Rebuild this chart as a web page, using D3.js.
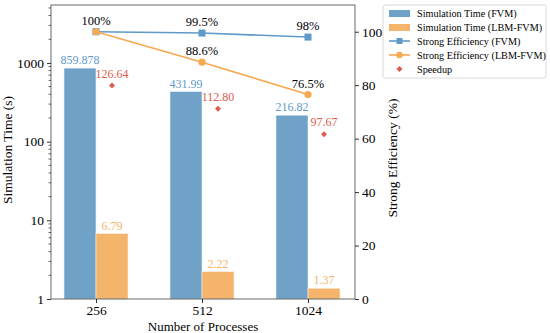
<!DOCTYPE html>
<html>
<head>
<meta charset="utf-8">
<script src="https://cdn.jsdelivr.net/npm/d3@7"></script>
<style>
  body { margin: 0; background: #fff; }
  svg text { font-family: "Liberation Serif", "Times New Roman", serif !important; }
</style>
</head>
<body>
<svg id="chart" width="550" height="333"></svg>
<script>
var procs = ["256", "512", "1024"];
var timeFVM = [859.878, 431.99, 216.82];
var timeLBM = [6.79, 2.22, 1.37];
var timeFVMLabels = ["859.878", "431.99", "216.82"];
var timeLBMLabels = ["6.79", "2.22", "1.37"];
var effFVM = [100, 99.5, 98];
var effLBM = [100, 88.6, 76.5];
var effFVMLabels = ["100%", "99.5%", "98%"];
var effLBMLabels = ["", "88.6%", "76.5%"];
var speedup = [126.64, 112.80, 97.67];
var speedupLabels = ["126.64", "112.80", "97.67"];
var leftTicks = [1, 10, 100, 1000];
var rightTicks = [0, 20, 40, 60, 80, 100];

var cBlue = "#6fa2c6", cOrange = "#f4b46c", cLineBlue = "#5f9ac8", cLineOrange = "#f7a94f", cRed = "#e05a4e";

var svg = d3.select("#chart"),
	margin = {top: 5, right: 195, bottom: 34, left: 51},
	width = 550 - margin.left - margin.right,
	height = 333 - margin.top - margin.bottom,
	g = svg.append("g").attr("transform", "translate(" + margin.left + "," + margin.top + ")");

var x = d3.scalePoint().domain(procs).range([45, 257]);
var bw = 32;
var yL = d3.scaleLog().domain([1, 5450]).range([height, 0]);
var yR = d3.scaleLinear().domain([0, 110]).range([height, 0]);
var yS = d3.scaleLinear().domain([0, 174.4]).range([height, 0]);

// bars
g.selectAll(".bf").data(procs).enter().append("rect")
	.attr("x", function(d) { return x(d) - bw; })
	.attr("y", function(d, i) { return yL(timeFVM[i]); })
	.attr("width", bw)
	.attr("height", function(d, i) { return height - yL(timeFVM[i]); })
	.attr("fill", cBlue).attr("stroke", "#e8f0f6").attr("stroke-width", 0.6);

g.selectAll(".bl").data(procs).enter().append("rect")
	.attr("x", function(d) { return x(d); })
	.attr("y", function(d, i) { return yL(timeLBM[i]); })
	.attr("width", bw)
	.attr("height", function(d, i) { return height - yL(timeLBM[i]); })
	.attr("fill", cOrange).attr("stroke", "#fbeee0").attr("stroke-width", 0.6);

g.selectAll(".tf").data(procs).enter().append("text")
	.attr("x", function(d) { return x(d) - bw / 2; })
	.attr("y", function(d, i) { return yL(timeFVM[i]) - 4; })
	.attr("text-anchor", "middle").attr("font-size", 12).attr("fill", cLineBlue)
	.text(function(d, i) { return timeFVMLabels[i]; });

g.selectAll(".tl").data(procs).enter().append("text")
	.attr("x", function(d) { return x(d) + bw / 2; })
	.attr("y", function(d, i) { return yL(timeLBM[i]) - 4; })
	.attr("text-anchor", "middle").attr("font-size", 12).attr("fill", cOrange)
	.text(function(d, i) { return timeLBMLabels[i]; });

// frame and axes
g.append("rect").attr("width", width).attr("height", height)
	.attr("fill", "none").attr("stroke", "#444").attr("stroke-width", 0.8);

var axL = g.append("g").call(d3.axisLeft(yL).tickValues(leftTicks).tickFormat(d3.format("d")).tickSize(4));
var minor = [];
for (var e = 0; e < 4; e++) for (var m = 2; m <= 9; m++) if (m * Math.pow(10, e) < 5450) minor.push(m * Math.pow(10, e));
g.append("g").selectAll("line").data(minor).enter().append("line")
	.attr("x1", -2.5).attr("x2", 0)
	.attr("y1", function(d) { return yL(d); }).attr("y2", function(d) { return yL(d); })
	.attr("stroke", "#000").attr("stroke-width", 0.6);

var axR = g.append("g").attr("transform", "translate(" + width + ",0)")
	.call(d3.axisRight(yR).tickValues(rightTicks).tickSize(4));
var axB = g.append("g").attr("transform", "translate(0," + height + ")")
	.call(d3.axisBottom(x).tickSize(4));

[axL, axR, axB].forEach(function(a) {
	a.select(".domain").remove();
	a.attr("font-family", null);
	a.selectAll("text").attr("font-size", 13.5).attr("fill", "#000");
	a.selectAll("line").attr("stroke", "#000").attr("stroke-width", 0.8);
});
axL.selectAll("text").attr("x", -7);
axR.selectAll("text").attr("x", 7);
axB.selectAll("text").attr("y", 6);

g.append("text").attr("transform", "rotate(-90)")
	.attr("x", -height / 2 + 2).attr("y", -39)
	.attr("text-anchor", "middle").attr("font-size", 13.5).text("Simulation Time (s)");
g.append("text").attr("transform", "rotate(-90)")
	.attr("x", -height / 2 - 6).attr("y", width + 42)
	.attr("text-anchor", "middle").attr("font-size", 13.5).text("Strong Efficiency (%)");
g.append("text")
	.attr("x", width / 2).attr("y", height + 32)
	.attr("text-anchor", "middle").attr("font-size", 13).text("Number of Processes");

// efficiency lines
var lineR = function(vals) {
	return d3.line().x(function(d, i) { return x(procs[i]); }).y(function(d) { return yR(d); })(vals);
};
g.append("path").attr("d", lineR(effFVM)).attr("fill", "none").attr("stroke", cLineBlue).attr("stroke-width", 1.6);
g.selectAll(".sq").data(effFVM).enter().append("rect")
	.attr("x", function(d, i) { return x(procs[i]) - 3.5; })
	.attr("y", function(d) { return yR(d) - 3.5; })
	.attr("width", 7).attr("height", 7).attr("fill", cLineBlue);
g.append("path").attr("d", lineR(effLBM)).attr("fill", "none").attr("stroke", cLineOrange).attr("stroke-width", 1.6);
g.selectAll(".ci").data(effLBM).enter().append("circle")
	.attr("cx", function(d, i) { return x(procs[i]); })
	.attr("cy", function(d) { return yR(d); })
	.attr("r", 3.6).attr("fill", cLineOrange);

g.selectAll(".ef").data(effFVM).enter().append("text")
	.attr("x", function(d, i) { return x(procs[i]); })
	.attr("y", function(d) { return yR(d) - 7; })
	.attr("text-anchor", "middle").attr("font-size", 12.5).attr("fill", "#000")
	.text(function(d, i) { return effFVMLabels[i]; });
g.selectAll(".el").data(effLBM).enter().append("text")
	.attr("x", function(d, i) { return x(procs[i]); })
	.attr("y", function(d) { return yR(d) - 7; })
	.attr("text-anchor", "middle").attr("font-size", 12.5).attr("fill", "#000")
	.text(function(d, i) { return effLBMLabels[i]; });

// speedup
var diamond = d3.symbol().type(d3.symbolSquare).size(18);
g.selectAll(".sp").data(speedup).enter().append("path")
	.attr("d", diamond)
	.attr("transform", function(d, i) { return "translate(" + (x(procs[i]) + bw / 2) + "," + yS(d) + ") rotate(45)"; })
	.attr("fill", cRed);
g.selectAll(".spt").data(speedup).enter().append("text")
	.attr("x", function(d, i) { return x(procs[i]) + bw / 2; })
	.attr("y", function(d) { return yS(d) - 8; })
	.attr("text-anchor", "middle").attr("font-size", 12).attr("fill", cRed)
	.text(function(d, i) { return speedupLabels[i]; });

// legend
var lg = svg.append("g").attr("transform", "translate(383,5)");
lg.append("rect").attr("width", 163).attr("height", 73).attr("rx", 2)
	.attr("fill", "#fff").attr("stroke", "#d0d0d0").attr("stroke-width", 0.8);
var items = [
	{label: "Simulation Time (FVM)", kind: "bar", color: cBlue},
	{label: "Simulation Time (LBM-FVM)", kind: "bar", color: cOrange},
	{label: "Strong Efficiency (FVM)", kind: "sq", color: cLineBlue},
	{label: "Strong Efficiency (LBM-FVM)", kind: "ci", color: cLineOrange},
	{label: "Speedup", kind: "dia", color: cRed}
];
items.forEach(function(it, i) {
	var yy = 8 + i * 14;
	var row = lg.append("g").attr("transform", "translate(0," + yy + ")");
	if (it.kind === "bar") {
		row.append("rect").attr("x", 6).attr("y", -3).attr("width", 21).attr("height", 7).attr("fill", it.color);
	} else if (it.kind === "dia") {
		row.append("path").attr("d", diamond).attr("transform", "translate(16.5,0) rotate(45)").attr("fill", it.color);
	} else {
		row.append("line").attr("x1", 6).attr("x2", 27).attr("stroke", it.color).attr("stroke-width", 1.6);
		if (it.kind === "sq") row.append("rect").attr("x", 13.5).attr("y", -3).attr("width", 6).attr("height", 6).attr("fill", it.color);
		else row.append("circle").attr("cx", 16.5).attr("r", 3.2).attr("fill", it.color);
	}
	row.append("text").attr("x", 34).attr("y", 3.5).attr("font-size", 10.2).attr("fill", "#000").text(it.label);
});
</script>
</body>
</html>
